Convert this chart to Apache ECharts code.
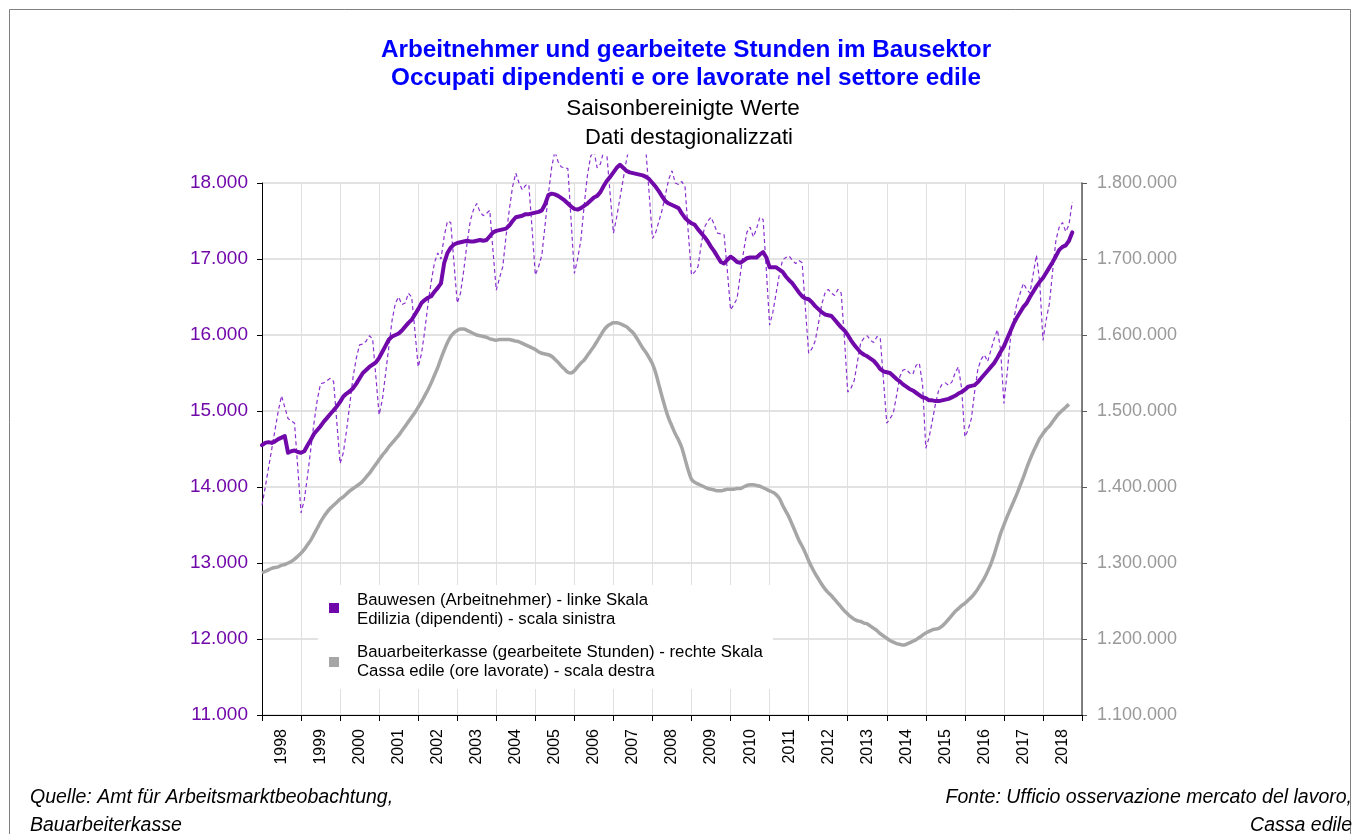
<!DOCTYPE html>
<html>
<head>
<meta charset="utf-8">
<title>Bausektor</title>
<script src="https://cdn.jsdelivr.net/npm/echarts@6/dist/echarts.min.js"></script>
<style>
  html, body { margin: 0; padding: 0; background: #fff; }
  #chart { width: 1360px; height: 834px; }
</style>
</head>
<body>
<div id="chart"></div>
<script>
// year labels on the x axis (monthly data starts January 1998)
const years = ['1998', '1999', '2000', '2001', '2002', '2003', '2004', '2005', '2006', '2007', '2008',
  '2009', '2010', '2011', '2012', '2013', '2014', '2015', '2016', '2017', '2018'];

// Bauwesen (Arbeitnehmer), saisonbereinigt - linke Skala
const arbeitnehmerSaison = [
  14550, 14580, 14590, 14580, 14600, 14630, 14650, 14670, 14450, 14470, 14480, 14460,
  14450, 14470, 14550, 14620, 14700, 14750, 14800, 14860, 14910, 14960, 15010, 15060,
  15120, 15190, 15230, 15260, 15300, 15360, 15430, 15500, 15540, 15580, 15610, 15640,
  15700, 15780, 15860, 15940, 15980, 16000, 16020, 16060, 16110, 16160, 16200, 16270,
  16340, 16420, 16460, 16490, 16510, 16570, 16620, 16680, 16950, 17080, 17150, 17190,
  17210, 17220, 17230, 17240, 17230, 17230, 17240, 17250, 17240, 17250, 17300, 17350,
  17370, 17380, 17390, 17400, 17440, 17500, 17550, 17560, 17570, 17590, 17590, 17600,
  17610, 17620, 17640, 17720, 17840, 17860, 17850, 17830, 17800, 17770, 17730, 17690,
  17660, 17650, 17670, 17700, 17730, 17770, 17810, 17830, 17880, 17960, 18030, 18080,
  18140, 18200, 18240, 18200, 18160, 18140, 18130, 18120, 18110, 18100, 18080, 18050,
  18000, 17950, 17890, 17820, 17760, 17730, 17710, 17690, 17670, 17600, 17540, 17500,
  17470, 17450, 17390, 17340, 17290, 17230, 17160, 17100, 17030, 16960, 16940, 16990,
  17030, 17000, 16960, 16950, 16980, 17010, 17020, 17020, 17020, 17060, 17090, 17020,
  16890, 16890, 16890, 16860, 16830, 16770, 16720, 16680, 16620, 16560, 16510, 16480,
  16470, 16430, 16380, 16340, 16300, 16270, 16260, 16250, 16200, 16150, 16100, 16060,
  16000, 15930, 15870, 15820, 15770, 15740, 15720, 15690, 15660, 15610, 15550, 15520,
  15510, 15500, 15460, 15420, 15390, 15350, 15320, 15290, 15270, 15240, 15210, 15180,
  15170, 15140, 15140, 15130, 15130, 15140, 15150, 15160, 15180, 15200, 15230, 15250,
  15280, 15320, 15330, 15340, 15380, 15430, 15480, 15530, 15580, 15630, 15700, 15780,
  15850, 15950, 16050, 16150, 16230, 16300, 16370, 16420, 16500, 16570, 16640, 16700,
  16750, 16820, 16890, 16960, 17040, 17120, 17160, 17180, 17240, 17350
];

// Bauwesen (Arbeitnehmer), Originalwerte (gestrichelt)
const arbeitnehmerRoh = [
  13760, 14000, 14250, 14500, 14750, 15000, 15200, 15050, 14900, 14870, 14840, 14250,
  13660, 13830, 14150, 14500, 14850, 15150, 15360, 15370, 15400, 15430, 15390, 14850,
  14310, 14450, 14750, 15100, 15450, 15700, 15870, 15880, 15920, 15990, 15950, 15450,
  14950, 15150, 15500, 15850, 16200, 16420, 16500, 16400, 16420, 16550, 16500, 16050,
  15580, 15750, 16050, 16400, 16700, 16950, 17080, 17000, 17300, 17500, 17480, 16950,
  16420, 16550, 16850, 17200, 17500, 17650, 17730, 17620, 17570, 17600, 17640, 17100,
  16590, 16750, 16900, 17300, 17650, 17950, 18130, 18000, 17910, 17970, 17980, 17400,
  16790, 16900, 17050, 17450, 17850, 18200, 18420, 18280, 18210, 18200, 18190, 17500,
  16810, 17000, 17250, 17700, 18100, 18350, 18420, 18200, 18250, 18420, 18360, 17850,
  17340, 17550, 17800, 18050, 18300, 18500, 18600, 18500, 18550, 18600, 18420, 17850,
  17270, 17350, 17500, 17650, 17850, 18050, 18160, 18000, 17980, 18020, 17950, 17350,
  16790, 16830, 16900, 17200, 17420, 17500, 17550, 17450, 17340, 17330, 17320, 16850,
  16330, 16400, 16480, 16800, 17100, 17350, 17420, 17290, 17400, 17550, 17520, 16850,
  16130, 16300, 16550, 16800, 16990, 17020, 17040, 16980, 16940, 16980, 16950, 16350,
  15760, 15820, 15920, 16150, 16400, 16550, 16600, 16550, 16520, 16600, 16550, 15950,
  15250, 15300, 15400, 15650, 15900, 15960, 15990, 15930, 15900, 15980, 15960, 15400,
  14840, 14900, 14970, 15200, 15450, 15540, 15550, 15500, 15480, 15600, 15630, 15350,
  14510, 14650, 14870, 15100, 15280, 15350, 15370, 15340, 15380, 15500, 15580, 15300,
  14660, 14750, 14900, 15250, 15550, 15680, 15740, 15650, 15800, 15950, 16070, 15800,
  15100, 15500, 15950, 16200, 16420, 16550, 16680, 16600, 16550, 16800, 17050, 16700,
  15930, 16200, 16420, 16850, 17250, 17420, 17480, 17360, 17450, 17750
];

// Bauarbeiterkasse (gearbeitete Stunden), in Tausend - rechte Skala
const stundenTsd = [
  1287, 1289, 1291, 1293, 1294, 1295, 1297, 1298, 1300, 1302, 1305, 1309,
  1313, 1318, 1324, 1330, 1338, 1346, 1354, 1361, 1367, 1372, 1376, 1380,
  1384, 1387, 1391, 1395, 1398, 1401, 1404, 1408, 1413, 1418, 1424, 1430,
  1436, 1442, 1447, 1453, 1458, 1463, 1468, 1474, 1480, 1486, 1492, 1498,
  1505, 1512, 1520, 1528, 1537, 1547, 1557, 1569, 1580, 1590, 1598, 1603,
  1606, 1608, 1608, 1606, 1604, 1602, 1600, 1599, 1598, 1597, 1595, 1594,
  1593, 1594, 1594, 1594, 1594, 1593, 1592, 1591, 1589, 1587, 1585, 1583,
  1581, 1578, 1576, 1575, 1574, 1572, 1568, 1564, 1559, 1555, 1551, 1550,
  1553, 1558, 1563, 1567, 1573, 1579, 1585, 1592, 1599, 1606, 1611, 1614,
  1616, 1616, 1615, 1613, 1611, 1607, 1603, 1597, 1590, 1583, 1577, 1570,
  1562, 1550, 1534, 1518, 1503, 1490, 1480, 1470, 1462, 1452, 1437, 1422,
  1410, 1406, 1404, 1402, 1400, 1398, 1397, 1396, 1395, 1395, 1396, 1397,
  1397, 1397, 1398, 1398, 1400, 1402, 1403, 1403, 1402, 1401, 1399, 1397,
  1395, 1393, 1390, 1385, 1376, 1368, 1360, 1350, 1340, 1330, 1322, 1313,
  1303, 1294, 1286, 1279, 1272, 1266, 1261, 1257, 1252, 1247, 1242, 1237,
  1233, 1229, 1226, 1224, 1223, 1221, 1220, 1217, 1214, 1211, 1207, 1204,
  1201, 1198, 1196, 1194, 1193, 1192, 1193, 1195, 1197, 1199, 1202, 1205,
  1208, 1210, 1212, 1213, 1214, 1217, 1221, 1226, 1231, 1236, 1240, 1244,
  1247, 1251, 1255, 1260, 1266, 1273, 1280, 1289, 1299, 1311, 1325, 1339,
  1350, 1361, 1371, 1381, 1391, 1402, 1413, 1425, 1436, 1446, 1455, 1464,
  1470, 1476, 1480, 1486, 1492, 1497, 1501, 1505, 1509
];

const titleLines = ['Arbeitnehmer und gearbeitete Stunden im Bausektor',
  'Occupati dipendenti e ore lavorate nel settore edile'];
const subtitleLines = ['Saisonbereinigte Werte', 'Dati destagionalizzati'];
const legendBau = ['Bauwesen (Arbeitnehmer) - linke Skala', 'Edilizia (dipendenti) - scala sinistra'];
const legendKasse = ['Bauarbeiterkasse (gearbeitete Stunden) - rechte Skala', 'Cassa edile (ore lavorate) - scala destra'];
const quelleLines = ['Quelle: Amt für Arbeitsmarktbeobachtung,', 'Bauarbeiterkasse'];
const fonteLines = ['Fonte: Ufficio osservazione mercato del lavoro,', 'Cassa edile'];

const FONT = '"Liberation Sans", Arial, sans-serif';
const PURPLE = '#7109aa';
const PURPLE_DASH = '#8a2fd0';
const GREY = '#a6a6a6';
const GRID = '#d9d9d9';
const MONTHS = years.length * 12;

function fmt (v) {
  return String(Math.round(v)).replace(/\B(?=(\d{3})+(?!\d))/g, '.');
}

function txt (text, x, y, font, fill, align) {
  return {
    type: 'text',
    z: 100,
    silent: true,
    style: { text: text, x: x, y: y, font: font, fill: fill, textAlign: align || 'left', textVerticalAlign: 'middle' }
  };
}

const graphic = [
  { type: 'rect', z: 100, silent: true, shape: { x: 9.5, y: 9.5, width: 1341, height: 840 }, style: { fill: 'none', stroke: '#808080', lineWidth: 1 } },
  txt(titleLines[0], 686, 50, 'bold 24.3px ' + FONT, '#0000ff', 'center'),
  txt(titleLines[1], 686, 78, 'bold 24.3px ' + FONT, '#0000ff', 'center'),
  txt(subtitleLines[0], 683, 109, '22.5px ' + FONT, '#000', 'center'),
  txt(subtitleLines[1], 689, 138, '22px ' + FONT, '#000', 'center'),
  // legend box
  { type: 'rect', z: 100, silent: true, shape: { x: 318, y: 585, width: 455, height: 104 }, style: { fill: '#fff' } },
  { type: 'rect', z: 101, silent: true, shape: { x: 329, y: 603, width: 10, height: 10 }, style: { fill: PURPLE } },
  { type: 'rect', z: 101, silent: true, shape: { x: 329, y: 657, width: 10, height: 10 }, style: { fill: GREY } },
  txt(legendBau[0], 357, 600, '16.8px ' + FONT, '#000'),
  txt(legendBau[1], 357, 619, '16.8px ' + FONT, '#000'),
  txt(legendKasse[0], 357, 652, '16.8px ' + FONT, '#000'),
  txt(legendKasse[1], 357, 671, '16.8px ' + FONT, '#000'),
  // sources
  txt(quelleLines[0], 30, 798, 'italic 19.5px ' + FONT, '#000'),
  txt(quelleLines[1], 30, 826, 'italic 19.5px ' + FONT, '#000'),
  txt(fonteLines[0], 1352, 798, 'italic 19.5px ' + FONT, '#000', 'right'),
  txt(fonteLines[1], 1352, 826, 'italic 19.5px ' + FONT, '#000', 'right')
];

const chart = echarts.init(document.getElementById('chart'), null, { renderer: 'canvas' });

const option = {
  animation: false,
  backgroundColor: '#fff',
  textStyle: { fontFamily: FONT },
  graphic: graphic,
  grid: [
    { left: 262, right: 278, top: 183, bottom: 119 },
    // same box, taller at the top: the raw series may run above 18.000 before it is cut off
    { left: 262, right: 278, top: 155, bottom: 119 }
  ],
  xAxis: [
    {
      type: 'category',
      gridIndex: 0,
      data: years,
      boundaryGap: true,
      axisLine: { lineStyle: { color: '#000', width: 1 } },
      axisTick: { show: true, interval: 0, length: 6, lineStyle: { color: '#000' } },
      axisLabel: { interval: 0, rotate: 90, fontSize: 16, color: '#000', margin: 14, fontFamily: FONT },
      splitLine: { show: true, interval: 0, lineStyle: { color: '#e0e0e0', width: 1 } }
    },
    { type: 'value', gridIndex: 0, min: 0, max: MONTHS, show: false },
    { type: 'value', gridIndex: 1, min: 0, max: MONTHS, show: false }
  ],
  yAxis: [
    {
      type: 'value',
      gridIndex: 0,
      position: 'left',
      min: 11000,
      max: 18000,
      interval: 1000,
      axisLine: { show: true, lineStyle: { color: '#000' } },
      axisTick: { show: true, length: 5, lineStyle: { color: '#000' } },
      axisLabel: { color: PURPLE, fontSize: 19, margin: 14, fontFamily: FONT, formatter: fmt },
      splitLine: { show: true, lineStyle: { color: GRID, width: 1.5 } }
    },
    {
      type: 'value',
      gridIndex: 0,
      position: 'right',
      min: 1100,
      max: 1800,
      interval: 100,
      axisLine: { show: true, lineStyle: { color: '#595959', width: 1.5 } },
      axisTick: { show: true, length: 5, lineStyle: { color: '#595959' } },
      axisLabel: { color: '#999999', fontSize: 18, margin: 15, fontFamily: FONT, formatter: v => fmt(v * 1000) },
      splitLine: { show: false }
    },
    { type: 'value', gridIndex: 1, min: 11000, max: 18000 + 28 * 1000 / 76, show: false }
  ],
  series: [
    {
      name: 'Bauwesen (Originalwerte)',
      type: 'line',
      xAxisIndex: 2,
      yAxisIndex: 2,
      data: arbeitnehmerRoh.map((v, i) => [i, v]),
      showSymbol: false,
      symbol: 'none',
      clip: true,
      lineStyle: { color: PURPLE_DASH, width: 1.2, type: [4, 3] },
      z: 2
    },
    {
      name: legendKasse[0],
      type: 'line',
      xAxisIndex: 1,
      yAxisIndex: 1,
      data: stundenTsd.map((v, i) => [i, v]),
      showSymbol: false,
      symbol: 'none',
      smooth: 0.3,
      clip: false,
      lineStyle: { color: GREY, width: 3.5 },
      z: 3
    },
    {
      name: legendBau[0],
      type: 'line',
      xAxisIndex: 1,
      yAxisIndex: 0,
      data: arbeitnehmerSaison.map((v, i) => [i, v]),
      showSymbol: false,
      symbol: 'none',
      clip: false,
      lineStyle: { color: PURPLE, width: 4, join: 'round', cap: 'round' },
      z: 4
    }
  ]
};

chart.setOption(option);
</script>
</body>
</html>
